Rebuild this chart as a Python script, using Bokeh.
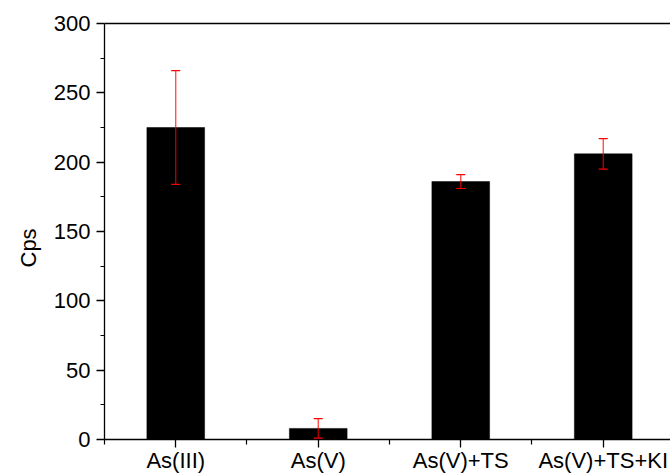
import math
from bokeh.plotting import figure
from bokeh.models import (ColumnDataSource, Whisker, FixedTicker, LinearAxis,
                          Range1d, Title)
from bokeh.embed import file_html
from bokeh.resources import INLINE

categories = ["As(III)", "As(V)", "As(V)+TS", "As(V)+TS+KI"]
values = [225, 8, 186, 206]
errors = [41, 7, 5, 11]
y_ticks = [0, 50, 100, 150, 200, 250, 300]
y_minor = [25, 75, 125, 175, 225, 275]

xs = [i + 1 for i in range(len(categories))]
src = ColumnDataSource(dict(
    x=xs, top=values,
    upper=[v + e for v, e in zip(values, errors)],
    lower=[v - e for v, e in zip(values, errors)],
))

FONT = "Liberation Sans"

p = figure(width=670, height=475, output_backend="svg", toolbar_location=None,
           x_range=Range1d(0.5, 4.472), y_range=Range1d(0, 300),
           min_border_left=104, min_border_right=0, min_border_top=23,
           min_border_bottom=0)
p.background_fill_color = "white"
p.border_fill_color = "white"
p.outline_line_color = None
p.grid.visible = False

p.vbar(x="x", top="top", bottom=0, width=0.405, source=src,
       fill_color="black", line_color="black", line_width=0.5)

w = Whisker(base="x", upper="upper", lower="lower", source=src,
            line_color="red", line_width=1.2, line_alpha=0.8, level="overlay")
w.upper_head.line_color = "red"
w.lower_head.line_color = "red"
w.upper_head.size = 9
w.lower_head.size = 9
w.upper_head.line_width = 1.2
w.lower_head.line_width = 1.2
p.add_layout(w)

# x axis
xa = p.xaxis[0]
xa.ticker = FixedTicker(ticks=xs, minor_ticks=[0.5, 1.5, 2.5, 3.5, 4.5])
xa.major_label_overrides = {x: c for x, c in zip(xs, categories)}
xa.major_tick_out = 8
xa.major_tick_in = 0
xa.minor_tick_out = 5
xa.minor_tick_in = 0
xa.major_label_standoff = 0
xa.major_label_text_font = FONT
xa.major_label_text_font_size = "22px"
xa.major_label_text_color = "black"
xa.axis_line_width = 1.3
xa.axis_line_color = "black"
xa.major_tick_line_width = 1.3
xa.minor_tick_line_width = 1.2

# y axis
ya = p.yaxis[0]
ya.ticker = FixedTicker(ticks=y_ticks, minor_ticks=y_minor)
ya.major_tick_out = 8
ya.major_tick_in = 0
ya.minor_tick_out = 4
ya.minor_tick_in = 0
ya.major_label_standoff = 6
ya.major_label_text_font = FONT
ya.major_label_text_font_size = "22px"
ya.major_label_text_color = "black"
ya.axis_line_width = 1.3
ya.axis_line_color = "black"
ya.major_tick_line_width = 1.3
ya.minor_tick_line_width = 1.2

# top border line
top = LinearAxis(ticker=FixedTicker(ticks=[], minor_ticks=[]),
                 major_tick_line_color=None, minor_tick_line_color=None,
                 axis_line_width=1.3, axis_line_color="black")
p.add_layout(top, "above")

# y axis title
p.add_layout(Title(text="Cps", align="left", offset=172, standoff=19,
                   text_font=FONT, text_font_size="22px",
                   text_font_style="normal", text_color="black"), "left")

open("out.html", "w").write(file_html(p, INLINE))
